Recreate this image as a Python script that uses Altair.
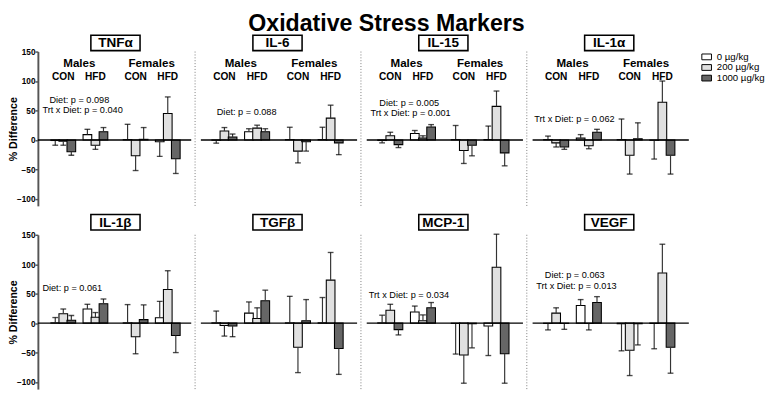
import altair as alt
import pandas as pd

FONT = "Liberation Sans"

markers = ["TNFα", "IL-6", "IL-15", "IL-1α", "IL-1β", "TGFβ", "MCP-1", "VEGF"]
groups = ["Males CON", "Males HFD", "Females CON", "Females HFD"]
doses = ["0 µg/kg", "200 µg/kg", "1000 µg/kg"]
y_ticks = [150, 100, 50, 0, -50, -100]

# % difference (mean), group by group, doses 0/200/1000 within each group
means = {
    "TNFα":  [-1, -2, -20, 9, -9, 14, 0.5, -27, 1, -3, 45, -32],
    "IL-6":  [-0.5, 15, 5, 14, 20, 14, 0.5, -19, -3, 0.5, 37, -5],
    "IL-15": [-1, 7, -8, 11, 3, 22, 0.5, -18, -9, 0.5, 57, -22],
    "IL-1α": [0.5, -5, -12, 3, -10, 13, 0.5, -26, 2, -0.5, 64, -26],
    "IL-1β": [0.5, 16, 5, 24, 10, 33, 0.5, -23, 6, 9, 57, -21],
    "TGFβ":  [0.5, -4, -5, 17, 8, 38, 0.5, -41, 4, 0.5, 73, -43],
    "MCP-1": [0.5, 22, -11, 19, 4, 26, -0.5, -54, -1, -5, 95, -52],
    "VEGF":  [-0.5, 17, -0.5, 30, -0.5, 35, -1, -46, -1, -0.5, 85, -41],
}
# error bar length (drawn away from zero)
sems = {
    "TNFα":  [8, 7, 6, 9, 7, 7, 26, 25, 20, 25, 28, 25],
    "IL-6":  [5, 6, 5, 5, 5, 5, 21, 20, 16, 21, 22, 20],
    "IL-15": [4, 6, 5, 5, 4, 4, 24, 22, 18, 23, 26, 22],
    "IL-1α": [6, 7, 4, 6, 5, 5, 35, 32, 27, 32, 36, 32],
    "IL-1β": [9, 8, 8, 8, 8, 8, 31, 29, 25, 28, 32, 29],
    "TGFβ":  [20, 18, 18, 19, 18, 18, 45, 43, 36, 43, 47, 44],
    "MCP-1": [13, 10, 9, 10, 10, 9, 52, 48, 41, 50, 56, 50],
    "VEGF":  [11, 9, 10, 10, 11, 10, 46, 43, 36, 43, 49, 44],
}
stats_text = {
    "TNFα":  ["Diet: p = 0.098", "Trt x Diet: p = 0.040"],
    "IL-6":  ["Diet: p = 0.088"],
    "IL-15": ["Diet: p = 0.005", "Trt x Diet: p = 0.001"],
    "IL-1α": ["Trt x Diet: p = 0.062"],
    "IL-1β": ["Diet: p = 0.061"],
    "TGFβ":  [],
    "MCP-1": ["Trt x Diet: p = 0.034"],
    "VEGF":  ["Diet: p = 0.063", "Trt x Diet: p = 0.013"],
}

# ---- layout (not data) ----
stats_pos = {
    "TNFα": [(0.5, 68), (0.6, 50)],
    "IL-6": [(0.68, 48)],
    "IL-15": [(0.58, 63), (0.62, 45)],
    "IL-1α": [(0.56, 36)],
    "IL-1β": [(0.28, 60)],
    "TGFβ": [],
    "MCP-1": [(0.57, 48)],
    "VEGF": [(0.57, 81), (0.62, 63)],
}
group_pos = [0, 1, 2.25, 3.25]
dose_shift = [-0.25, 0, 0.25]
H = 160
Y_DOMAIN = [-112, 150]
fills = ["#ffffff", "#e0e0e0", "#666666"]

legend = alt.Legend(
    title=None, orient="none", legendX=688, legendY=0,
    symbolType="M-1,-0.6H1V0.6H-1Z", symbolSize=100,
    symbolStrokeColor="black", symbolStrokeWidth=1,
    labelFont=FONT, labelFontSize=10, labelColor="black",
    labelOffset=5, rowPadding=0,
)


def panel(k, name):
    row, col = divmod(k, 4)
    width = 163 if col == 0 else 172
    xdom = [-0.64, 3.95] if col == 0 else [-0.75, 4.03]
    recs = []
    for gi, g in enumerate(groups):
        for di, d in enumerate(doses):
            m = means[name][gi * 3 + di]
            s = sems[name][gi * 3 + di]
            recs.append(dict(group=g, dose=d, xpos=group_pos[gi] + dose_shift[di],
                             mean=m, zero=0, tip=m + (s if m >= 0 else -s)))
    df = pd.DataFrame(recs)
    xs = alt.Scale(domain=xdom, nice=False, zero=False)
    ys = alt.Scale(domain=Y_DOMAIN, nice=False, zero=False)
    if col == 0:
        yaxis = alt.Axis(values=y_ticks, title="% Difference", grid=False,
                         titleFont=FONT, titleFontSize=11, titleFontWeight="bold",
                         titleColor="black", titleX=-20, titleY=H / 2,
                         labelFont=FONT, labelFontSize=8.5, labelFontWeight="bold",
                         labelColor="black", labelPadding=0, tickSize=3,
                         domainColor="#555555", domainWidth=2,
                         tickColor="#555555", tickWidth=1.5)
    else:
        yaxis = None

    def Y(field):
        return alt.Y(field, scale=ys, axis=yaxis)

    def X(field):
        return alt.X(field, scale=xs, axis=None)

    layers = []
    base = alt.Chart(df)
    layers.append(base.mark_bar(size=9, stroke="black", strokeWidth=1.1).encode(
        x=X("xpos:Q"), y=Y("mean:Q"), y2="zero:Q",
        fill=alt.Fill("dose:N", scale=alt.Scale(domain=doses, range=fills),
                      legend=legend, sort=doses)))
    layers.append(base.mark_rule(color="#333333", strokeWidth=1.2).encode(
        x=X("xpos:Q"), y=Y("mean:Q"), y2="tip:Q"))
    layers.append(base.mark_tick(orient="horizontal", size=6, thickness=1.4,
                                 color="black").encode(
        x=X("xpos:Q"), y=Y("tip:Q")))
    x0 = 0 if col == 0 else 6
    layers.append(alt.Chart(pd.DataFrame({"zero": [0]})).mark_rule(
        color="black", strokeWidth=1.5).encode(
        y=Y("zero:Q"), x=alt.value(x0), x2=alt.value(width - 4)))
    if col > 0:
        layers.append(alt.Chart(pd.DataFrame({"a": [0]})).mark_rule(
            color="#777777", strokeDash=[1, 2], strokeWidth=1).encode(
            x=alt.value(0), y=alt.value(0), y2=alt.value(H)))

    if row == 0:
        big = pd.DataFrame({"t": ["Males", "Females"],
                            "x": [(group_pos[0] + group_pos[1]) / 2,
                                  (group_pos[2] + group_pos[3]) / 2],
                            "y": [130, 130]})
        small = pd.DataFrame({"t": ["CON", "HFD", "CON", "HFD"],
                              "x": group_pos, "y": [107] * 4})
        layers.append(alt.Chart(big).mark_text(font=FONT, fontSize=12,
                                               fontWeight="bold", color="black").encode(
            x=X("x:Q"), y=Y("y:Q"), text="t:N"))
        layers.append(alt.Chart(small).mark_text(font=FONT, fontSize=10.5,
                                                 fontWeight="bold", color="black").encode(
            x=X("x:Q"), y=Y("y:Q"), text="t:N"))

    if stats_text[name]:
        sdf = pd.DataFrame({"t": stats_text[name],
                            "x": [p[0] for p in stats_pos[name]],
                            "y": [p[1] for p in stats_pos[name]]})
        layers.append(alt.Chart(sdf).mark_text(font=FONT, fontSize=9.5,
                                               color="black").encode(
            x=X("x:Q"), y=Y("y:Q"), text="t:N"))

    cx = (1.625 - xdom[0]) / (xdom[1] - xdom[0]) * width
    top = -17 if row == 0 else -21
    one = pd.DataFrame({"a": [0]})
    layers.append(alt.Chart(one).mark_rect(fill="white", stroke="black",
                                           strokeWidth=1.6).encode(
        x=alt.value(cx - 25.5), x2=alt.value(cx + 25.5),
        y=alt.value(top), y2=alt.value(top + 16)))
    layers.append(alt.Chart(one).mark_text(font=FONT, fontSize=14,
                                           fontWeight="bold", color="black").encode(
        x=alt.value(cx), y=alt.value(top + 8.5), text=alt.value(name)))

    return alt.layer(*layers).properties(width=width, height=H)


panels = [panel(k, n) for k, n in enumerate(markers)]

chart = alt.concat(*panels, columns=4, spacing={"row": 30, "column": 0},
                   bounds="flush").properties(
    title=alt.TitleParams("Oxidative Stress Markers", font=FONT, fontSize=24,
                          fontWeight="bold", color="black", anchor="middle",
                          offset=-1),
    padding={"left": 0, "top": -3, "right": 0, "bottom": 0},
    background="white",
).resolve_scale(fill="shared").resolve_legend(fill="shared").configure_view(
    stroke=None, strokeWidth=0
)

chart.save("out.html", embed_options={"renderer": "svg", "actions": False})
